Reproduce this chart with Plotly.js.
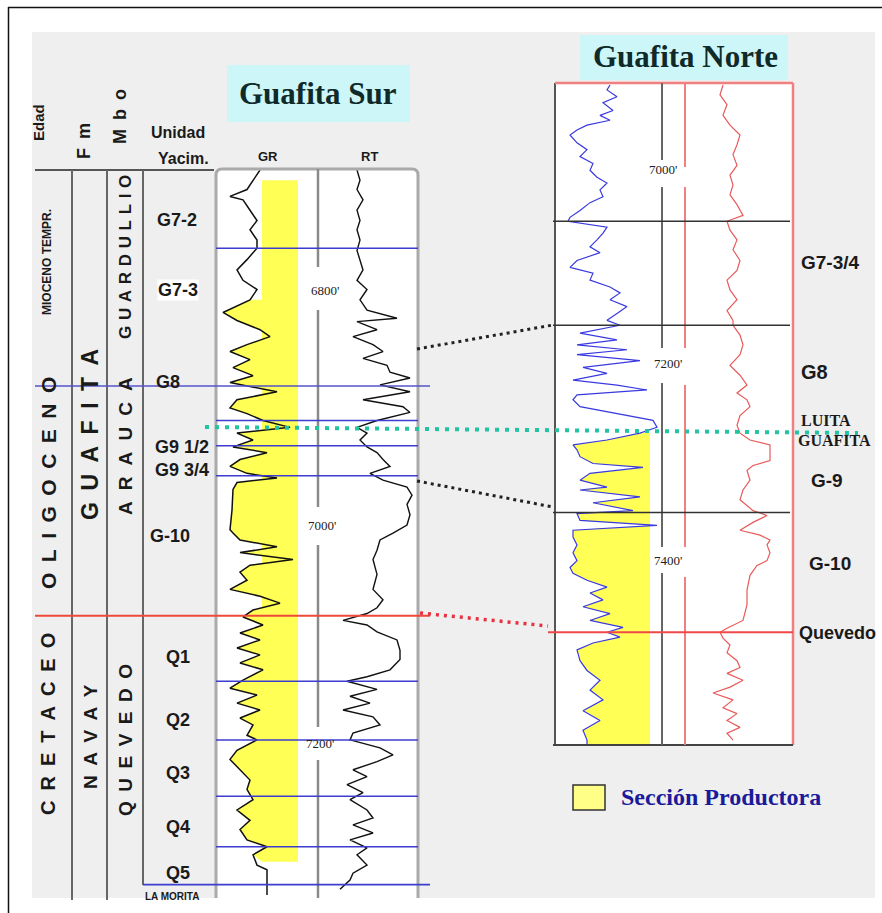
<!DOCTYPE html>
<html><head><meta charset="utf-8">
<script src="https://cdn.plot.ly/plotly-3.0.1.min.js"></script>
<style>html,body{margin:0;padding:0;background:#fff}#chart{width:882px;height:913px}</style>
</head><body><div id="chart"></div>
<script>
// ---------------- DATA ----------------
// Guafita Sur : depth (ft) and log readings (relative track scale)
const surDepthGR = [6691,6700,6708,6714,6717,6726,6735,6743,6752,6759,6769,6778,6787,6795,6804,6815,6822,6830,6836,6843,6849,6856,6863,6870,6876,6884,6891,6898,6903,6909,6915,6920,6926,6932,6937,6943,6949,6955,6959,6963,6969,6987,7004,7007,7013,7019,7024,7030,7035,7041,7048,7056,7062,7068,7074,7080,7087,7094,7100,7107,7113,7120,7126,7135,7142,7148,7155,7161,7168,7174,7183,7187,7196,7204,7213,7222,7230,7239,7248,7257,7265,7274,7280,7287,7296,7300,7322];
const surGR = [44,37,31,14,27,34,41,34,41,41,31,21,27,41,34,7,21,44,54,31,14,34,17,37,14,61,21,14,31,47,74,21,37,17,51,24,14,31,61,21,17,16,14,17,24,61,24,77,34,24,31,14,44,64,37,27,47,24,44,21,44,24,47,27,14,41,21,44,24,37,31,41,21,14,24,34,31,37,21,34,24,31,51,37,41,51,51];
const surDepthRT = [6691,6700,6708,6717,6726,6735,6743,6752,6761,6769,6778,6787,6795,6804,6813,6820,6823,6830,6836,6843,6849,6855,6861,6867,6872,6878,6884,6891,6897,6902,6909,6915,6920,6926,6932,6937,6943,6949,6955,6961,6967,6974,6982,6991,7000,7007,7013,7022,7030,7043,7056,7065,7072,7077,7083,7087,7093,7100,7109,7117,7126,7132,7136,7143,7149,7155,7161,7167,7174,7181,7187,7194,7200,7206,7213,7219,7226,7233,7239,7248,7255,7261,7268,7274,7281,7287,7296,7303,7309,7317];
const surRT = [39,42,39,45,39,42,39,42,39,42,45,39,49,42,49,79,39,59,35,55,65,45,69,72,92,62,92,45,85,92,59,39,49,42,49,59,65,72,52,65,89,94,89,92,89,75,62,59,55,59,55,65,59,49,25,49,59,79,82,82,72,49,29,59,32,52,25,55,62,35,32,62,75,59,35,49,29,45,32,49,55,35,55,32,49,39,49,35,32,22];
// Guafita Sur unit tops (ft)
const surBlueTops = [6759,6909,6931,6957,7136,7187,7236,7280];
const surG8Top = 6879;
const surQuevedoTop = 7079;
const surLaMoritaTop = 7313;
const surSandTop = 6804, surSandBase = 7293, surBandTop = 6700;

// Guafita Norte
const norDepthGR = [6915,6920,6927,6933,6941,6946,6951,6956,6961,6966,6974,6981,6988,6995,7002,7009,7015,7022,7029,7035,7043,7050,7054,7060,7066,7073,7080,7086,7094,7101,7107,7114,7121,7127,7134,7141,7148,7155,7160,7168,7175,7180,7185,7190,7196,7203,7209,7216,7221,7226,7231,7236,7243,7250,7257,7264,7270,7277,7282,7287,7294,7301,7305,7311,7318,7325,7328,7335,7341,7349,7352,7359,7364,7369,7376,7384,7392,7400,7407,7413,7420,7427,7433,7440,7447,7454,7461,7468,7473,7478,7484,7491,7502,7512,7522,7532,7542,7553,7563,7573,7583,7588];
const norGR = [55,52,62,48,58,45,55,32,22,15,22,32,25,38,35,42,52,45,48,35,25,15,13,52,48,42,35,45,22,15,38,35,55,65,55,72,62,52,65,25,62,22,72,22,85,28,52,18,62,92,22,18,25,62,98,102,85,52,18,22,25,38,88,35,25,52,25,85,38,78,22,25,102,18,18,22,18,22,15,18,32,52,35,48,28,55,35,68,52,65,38,22,25,32,45,35,48,28,45,28,32,32];
const norDepthRT = [6915,6925,6935,6946,6956,6966,6976,6986,6997,7007,7017,7027,7037,7048,7054,7063,7073,7083,7094,7104,7114,7124,7134,7145,7155,7160,7170,7180,7190,7201,7211,7221,7229,7236,7243,7252,7262,7270,7277,7282,7298,7303,7308,7318,7328,7338,7349,7354,7361,7369,7374,7379,7384,7392,7400,7405,7415,7430,7445,7461,7469,7473,7479,7486,7494,7502,7509,7515,7522,7529,7535,7542,7550,7556,7563,7570,7576,7583];
const norRT = [38,35,42,38,45,55,52,48,52,45,48,45,52,58,42,45,52,48,55,52,42,45,52,42,48,48,55,58,55,45,55,62,52,62,65,55,52,55,65,85,85,68,62,65,58,55,68,82,68,55,75,85,82,85,82,72,65,62,62,58,42,35,38,45,42,52,55,42,58,45,28,48,38,52,42,55,42,48];
const norBlackTops = [7054,7160,7351];
const norQuevedoTop = 7473;
const norSandTop = 7270, norSandBase = 7588;

// Labels
const unitLabels = ['G7-2','G7-3','G8','G9 1/2','G9 3/4','G-10','Q1','Q2','Q3','Q4','Q5'];
const norLabels = ['G7-3/4','G8','G-9','G-10','Quevedo'];
const surDepthLabels = ["6800'","7000'","7200'"];
const norDepthLabels = ["7000'","7200'","7400'"];

// ---------------- DRAWING ----------------
const W = 882, H = 913;
const X = p => p / W;
const Y = p => 1 - p / H;
const SANS = 'Liberation Sans, Arial, sans-serif';
const SERIF = 'Liberation Serif, Times New Roman, serif';
const YELLOW = '#ffff55';

const shapes = [];
const rect = (x0,y0,x1,y1,fill,lc,lw,layer) => shapes.push({type:'rect',xref:'paper',yref:'paper',x0:X(x0),y0:Y(y0),x1:X(x1),y1:Y(y1),fillcolor:fill,line:{color:lc||'rgba(0,0,0,0)',width:lw||0},layer:layer||'below'});
const line = (x0,y0,x1,y1,color,width,dash) => shapes.push({type:'line',xref:'paper',yref:'paper',x0:X(x0),y0:Y(y0),x1:X(x1),y1:Y(y1),line:{color,width,dash:dash||'solid'},layer:'above'});
const dline = (depth,yref,px0,px1,color,width) => shapes.push({type:'line',xref:'paper',yref,x0:X(px0),x1:X(px1),y0:depth,y1:depth,line:{color,width},layer:'above'});

// backgrounds
rect(32,32,875,898,'#efefef');
rect(227,65,410,122,'#cdf6f9');
rect(580,35,788,80,'#cdf6f9');
rect(216,169,418,898,'#ffffff');
rect(555,83,793,745,'#ffffff');
shapes.push({type:'rect',xref:'x',yref:'y',x0:46,x1:82,y0:surBandTop,y1:surSandBase,fillcolor:YELLOW,line:{width:0},layer:'below'});
// outer frame
line(8,7.5,882,7.5,'#111',1.5);
line(8.5,7,8.5,913,'#111',1.5);

// left table
line(35,170,214,170,'#555',2);
[72,107].forEach(x=>line(x,170,x,900,'#666',2));
line(143,170,143,885,'#666',2);
// Sur frame
const fp = `M ${X(216)} ${Y(898)} L ${X(216)} ${Y(175)} Q ${X(216)} ${Y(169)} ${X(222)} ${Y(169)} L ${X(412)} ${Y(169)} Q ${X(418)} ${Y(169)} ${X(418)} ${Y(175)} L ${X(418)} ${Y(898)}`;
shapes.push({type:'path',xref:'paper',yref:'paper',path:fp,line:{color:'#aaaaaa',width:3},layer:'above'});
[[169,267],[310,507],[545,727],[760,898]].forEach(s=>line(318,s[0],318,s[1],'#8a8a8a',2.5));
// Sur tops
surBlueTops.forEach(d=>dline(d,'y',216,418,'#3d3dd0',1.5));
dline(surG8Top,'y',35,430,'#5555cc',1.5);
dline(surLaMoritaTop,'y',143,430,'#3d3dd0',1.8);
dline(surQuevedoTop,'y',35,430,'#f0483a',2);

// Norte frame
line(555,83,555,745,'#555',2);
line(555,83,793,83,'#f08080',2.5);
line(793,83,793,745,'#f08080',2.5);
line(553,745,793,745,'#444',2);
[[83,160],[187,348],[383,547],[573,745]].forEach(s=>line(662,s[0],662,s[1],'#666',2));
[[83,167],[187,348],[385,547],[577,745]].forEach(s=>line(685,s[0],685,s[1],'#f08080',2));
norBlackTops.forEach(d=>dline(d,'y2',553,790,'#333',1.6));
dline(norQuevedoTop,'y2',548,793,'#f04848',2);

// correlations
line(417,349,553,325,'#222',3,'3px,4px');
line(417,481,553,507,'#222',3,'3px,4px');
line(205,427,858,433,'#22c4a4',4,'4px,6px');
line(420,613,548,626,'#e83040',3.5,'3px,5px');

// legend box
rect(573,785,605,810,'#ffff88','#333',1.5,'above');

// ---------------- ANNOTATIONS ----------------
const ann = [];
const T = (text,x,y,size,o) => { o=o||{}; ann.push({text, x:X(x), y:Y(y), xref:'paper', yref:'paper', showarrow:false,
  xanchor:o.xa||'center', yanchor:'middle', textangle:o.rot||0, bgcolor:o.bg||'rgba(0,0,0,0)', borderpad:0,
  font:{family:o.fam||SANS, size, color:o.color||'#1a1a1a'}}); };
const sp = (s,g) => s.split('').join(g);
const EN='\u2002', TPE='\u2004', HAIR='\u200a';

T('<b>Guafita Sur</b>',318,93,31,{fam:SERIF,color:'#102a2a'});
T('<b>Guafita Norte</b>',685,56,31,{fam:SERIF,color:'#102a2a'});

T('<b>Edad</b>',39,123,15,{rot:-90});
T('<b>'+sp('Fm',EN)+'</b>',84,141,18,{rot:-90});
T('<b>'+sp('Mbo',EN)+'</b>',120,117,18,{rot:-90});
T('<b>Unidad</b>',178,132,16);
T('<b>Yacim.</b>',183,158,16);
T('<b>GR</b>',268,157,13);
T('<b>RT</b>',369,157,13);

T('<b>MIOCENO TEMPR.</b>',47,262,12,{rot:-90});
T('<b>'+sp('OLIGOCENO',EN)+'</b>',48,483,21,{rot:-90});
T('<b>'+sp('CRETACEO',EN)+'</b>',48,724,20,{rot:-90});
T('<b>'+sp('GUAFITA',EN)+'</b>',90,435,23,{rot:-90});
T('<b>'+sp('NAVAY',EN)+'</b>',90,737,19,{rot:-90});
T('<b>'+sp('GUARDULLIO',TPE)+'</b>',125,257,17,{rot:-90});
T('<b>'+sp('ARAUCA',EN+HAIR)+'</b>',125,446,19,{rot:-90});
T('<b>'+sp('QUEVEDO',EN)+'</b>',125,740,19,{rot:-90});

const unitPos = [[177,220],[178,290],[168,382],[182,447],[182,470],[170,536],[178,657],[178,720],[178,773],[178,827],[178,873]];
unitLabels.forEach((u,i)=>T('<b>'+u+'</b>',unitPos[i][0],unitPos[i][1],18,{bg: u==='G7-3'?'#ffffff':undefined}));
T('<b>LA MORITA</b>',172,896,10);

const norPos = [[800,262,19],[800,372,20],[810,480,19],[808,563,19],[798,633,18]];
norLabels.forEach((u,i)=>T('<b>'+u+'</b>',norPos[i][0],norPos[i][1],norPos[i][2],{xa:'left'}));
T('<b>LUITA</b>',800,420,16,{xa:'left',fam:SERIF});
T('<b>GUAFITA</b>',797,440,16,{xa:'left',fam:SERIF});

const surDL = [[325,290],[322,525],[320,743]];
surDepthLabels.forEach((t,i)=>T(t,surDL[i][0],surDL[i][1],13,{fam:SERIF,color:'#222'}));
const norDL = [[663,170],[668,363],[668,560]];
norDepthLabels.forEach((t,i)=>T(t,norDL[i][0],norDL[i][1],13,{fam:SERIF,color:'#222'}));

T('<b>Sección Productora</b>',620,797,24,{xa:'left',fam:SERIF,color:'#1a1a9a'});

// ---------------- TRACES ----------------
const sel = (dep,val,a,b) => { const d=[],v=[]; dep.forEach((z,i)=>{ if(z>=a && z<=b){d.push(z);v.push(val[i]);} }); return [d,v]; };
const [sfd,sfv] = sel(surDepthGR,surGR,surSandTop,surSandBase);
const [nfd,nfv] = sel(norDepthGR,norGR,norSandTop,norSandBase);

const traces = [
  {x:[46,46],y:[surSandTop,surSandBase],xaxis:'x',yaxis:'y',mode:'lines',line:{width:0},hoverinfo:'skip'},
  {x:sfv,y:sfd,xaxis:'x',yaxis:'y',mode:'lines',line:{width:0},fill:'tonextx',fillcolor:YELLOW,hoverinfo:'skip'},
  {x:surGR,y:surDepthGR,xaxis:'x',yaxis:'y',mode:'lines',line:{color:'#111',width:1.5}},
  {x:surRT,y:surDepthRT,xaxis:'x2',yaxis:'y',mode:'lines',line:{color:'#111',width:1.4}},
  {x:[95,95],y:[norSandTop,norSandBase],xaxis:'x3',yaxis:'y2',mode:'lines',line:{width:0},hoverinfo:'skip'},
  {x:nfv,y:nfd,xaxis:'x3',yaxis:'y2',mode:'lines',line:{width:0},fill:'tonextx',fillcolor:YELLOW,hoverinfo:'skip'},
  {x:norGR,y:norDepthGR,xaxis:'x3',yaxis:'y2',mode:'lines',line:{color:'#3a3ae0',width:1.2}},
  {x:norRT,y:norDepthRT,xaxis:'x4',yaxis:'y2',mode:'lines',line:{color:'#e85a5a',width:1.2}}
];

const ax = (dom,rng,anchor) => ({domain:dom,range:rng,anchor,visible:false,fixedrange:true,showgrid:false,zeroline:false});
const layout = {
  width:W, height:H, margin:{l:0,r:0,t:0,b:0}, paper_bgcolor:'#ffffff', plot_bgcolor:'rgba(0,0,0,0)',
  showlegend:false,
  xaxis: ax([X(216),X(318)],[0,102],'y'),
  xaxis2: ax([X(318),X(418)],[0,100],'y'),
  xaxis3: ax([X(555),X(662)],[0,107],'y2'),
  xaxis4: ax([X(685),X(793)],[0,108],'y2'),
  yaxis: ax([Y(895),Y(170)],[7322,6691],'x'),
  yaxis2: ax([Y(745),Y(83)],[7588,6913],'x3'),
  shapes, annotations: ann
};
Plotly.newPlot('chart', traces, layout, {displayModeBar:false, staticPlot:true});
</script></body></html>
